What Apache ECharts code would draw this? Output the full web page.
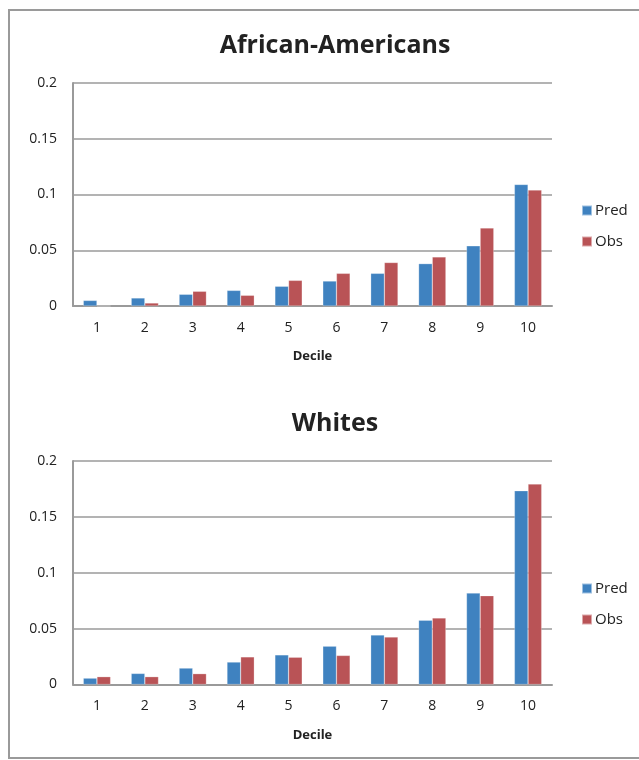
<!DOCTYPE html>
<html>
<head>
<meta charset="utf-8">
<script src="https://cdn.jsdelivr.net/npm/echarts@6/dist/echarts.min.js"></script>
<style>
html,body{margin:0;padding:0;background:#fff;}
#chart{width:639px;height:760px;}
</style>
</head>
<body>
<div id="chart"></div>
<script>
const deciles = ['1','2','3','4','5','6','7','8','9','10'];
const yTicks = [0, 0.05, 0.1, 0.15, 0.2];
const titles = ['African-Americans', 'Whites'];
const seriesNames = ['Pred', 'Obs'];
const aaPred = [0.005, 0.0072, 0.0105, 0.014, 0.0177, 0.0224, 0.0293, 0.038, 0.054, 0.109];
const aaObs  = [0, 0.0027, 0.0132, 0.0096, 0.023, 0.0293, 0.039, 0.044, 0.070, 0.104];
const whPred = [0.0057, 0.0099, 0.0147, 0.0201, 0.0265, 0.0343, 0.0443, 0.0575, 0.0818, 0.1734];
const whObs  = [0.007, 0.007, 0.0097, 0.0247, 0.0244, 0.026, 0.0425, 0.0596, 0.0795, 0.1794];

const FONT = '"Open Sans", Lato, sans-serif';
const BLUE = '#3F82C0';
const RED = '#B95356';
const GRAY = '#9a9a9a';

const chart = echarts.init(document.getElementById('chart'), null, {renderer: 'canvas'});

function xAxis(i) {
  return {
    type: 'category', gridIndex: i, data: deciles,
    axisLine: {show: true, lineStyle: {color: GRAY, width: 2}},
    axisTick: {show: false},
    axisLabel: {color: '#222', fontSize: 14, fontFamily: FONT, margin: 15},
    name: 'Decile', nameLocation: 'middle', nameGap: 44,
    nameTextStyle: {color: '#222', fontSize: 13, fontWeight: 'bold', fontFamily: FONT}
  };
}
function yAxis(i) {
  return {
    type: 'value', gridIndex: i,
    min: yTicks[0], max: yTicks[yTicks.length - 1], interval: yTicks[1] - yTicks[0],
    axisLine: {show: true, lineStyle: {color: GRAY, width: 2}},
    axisTick: {show: false},
    splitLine: {show: true, lineStyle: {color: GRAY, width: 1.5}},
    axisLabel: {color: '#222', fontSize: 14, fontFamily: FONT, margin: 16}
  };
}
function bar(name, data, i, color) {
  return {
    name: name, type: 'bar', xAxisIndex: i, yAxisIndex: i, data: data,
    barGap: '0%', barCategoryGap: '43%',
    itemStyle: {color: color, borderColor: 'rgba(255,255,255,0.5)', borderWidth: 0.5},
    emphasis: {disabled: true}
  };
}

chart.setOption({
  animation: false,
  backgroundColor: '#fff',
  graphic: [{
    type: 'rect', shape: {x: 9, y: 10, width: 700, height: 748},
    style: {fill: 'none', stroke: GRAY, lineWidth: 2}, silent: true, z: -1
  }],
  title: [
    {text: titles[0], left: 330, top: 28, textAlign: 'center',
     textStyle: {fontSize: 25, fontWeight: 'bold', color: '#222', fontFamily: FONT}},
    {text: titles[1], left: 330, top: 406, textAlign: 'center',
     textStyle: {fontSize: 25, fontWeight: 'bold', color: '#222', fontFamily: FONT}}
  ],
  legend: [
    {data: seriesNames, orient: 'vertical', left: 576, top: 198, itemWidth: 10, itemHeight: 10, itemGap: 16,
     icon: 'rect', textStyle: {fontSize: 15, color: '#222', fontFamily: FONT, padding: [0,0,0,-2]}, selectedMode: false},
    {data: seriesNames, orient: 'vertical', left: 576, top: 576, itemWidth: 10, itemHeight: 10, itemGap: 16,
     icon: 'rect', textStyle: {fontSize: 15, color: '#222', fontFamily: FONT, padding: [0,0,0,-2]}, selectedMode: false}
  ],
  grid: [
    {left: 73, right: 87, top: 83, height: 223},
    {left: 73, right: 87, top: 461, height: 223.5}
  ],
  xAxis: [xAxis(0), xAxis(1)],
  yAxis: [yAxis(0), yAxis(1)],
  series: [
    bar(seriesNames[0], aaPred, 0, BLUE),
    bar(seriesNames[1], aaObs, 0, RED),
    bar(seriesNames[0], whPred, 1, BLUE),
    bar(seriesNames[1], whObs, 1, RED)
  ]
});
</script>
</body>
</html>
